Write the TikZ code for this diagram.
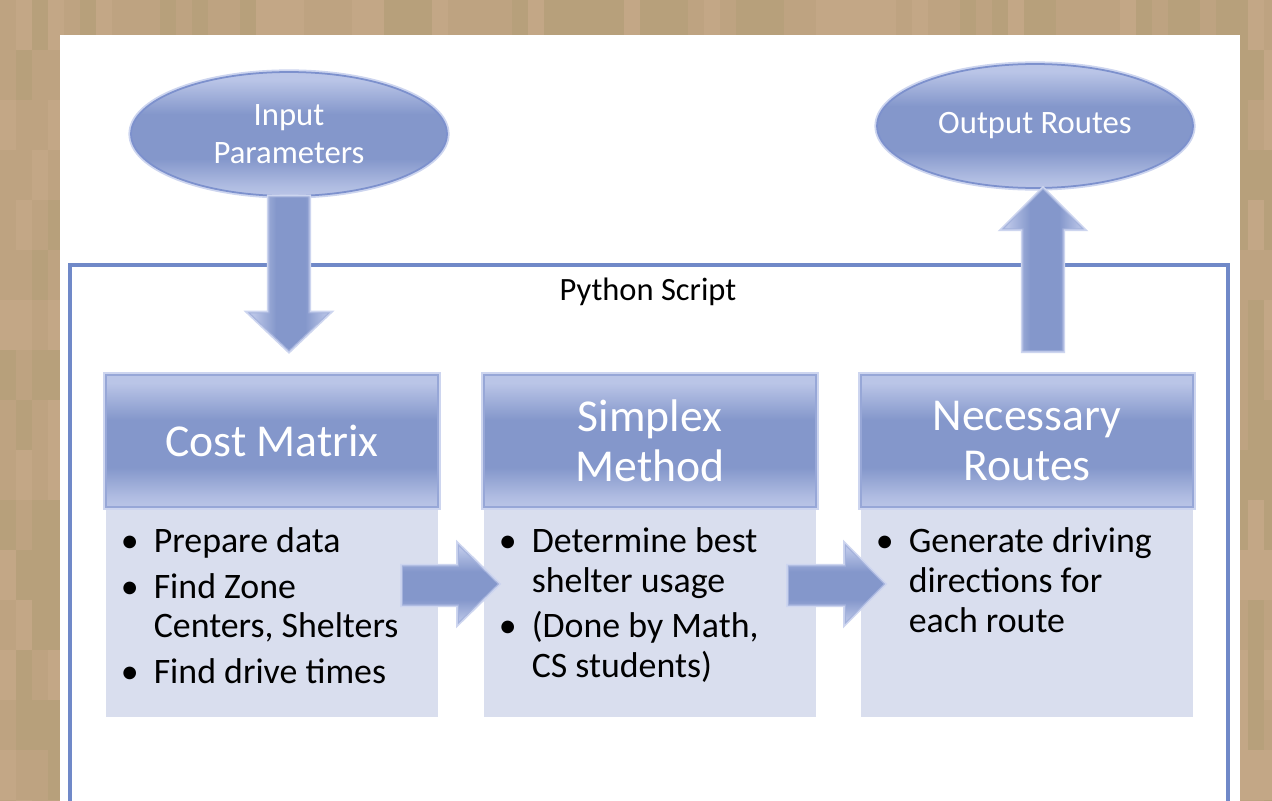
\documentclass[tikz,border=0pt]{standalone}
\usepackage{fontspec}
\setmainfont{Carlito}
\usetikzlibrary{shapes.geometric}

\definecolor{tan0}{RGB}{190,163,129}
\definecolor{tan1}{RGB}{183,160,123}
\definecolor{tan2}{RGB}{195,167,134}
\definecolor{bandlight}{RGB}{186,197,231}
\definecolor{banddark}{RGB}{132,151,203}
\definecolor{edgeblue}{RGB}{125,145,205}
\definecolor{framebl}{RGB}{112,137,200}
\definecolor{bodyfill}{RGB}{217,222,238}
\definecolor{glowbl}{RGB}{205,213,239}

\pgfdeclareverticalshading{blueband}{100bp}{color(0bp)=(bandlight); color(25bp)=(bandlight); color(29bp)=(bandlight!80!banddark); color(40bp)=(banddark); color(58bp)=(banddark); color(72bp)=(bandlight); color(100bp)=(bandlight)}

\newcommand{\itm}[1]{\makebox[27.2pt][l]{\hspace{8.5pt}\textbullet}#1}
\newcommand{\cnt}[1]{\hspace*{27.2pt}#1}

\tikzset{
    oval/.style={ellipse, shade, shading=blueband, draw=edgeblue, line width=1pt,
                 preaction={draw=glowbl, line width=3pt},
                 minimum width=6.32cm, minimum height=2.48cm, inner sep=0pt,
                 text=white, align=center, font=\fontsize{18.6}{21.5}\selectfont},
    head/.style={rectangle, shade, shading=blueband, draw=edgeblue!80, line width=0.8pt,
                 preaction={draw=glowbl, line width=3pt},
                 minimum width=6.64cm, minimum height=2.64cm, inner sep=0pt,
                 text=white, align=center, font=\fontsize{26}{28.3}\selectfont},
    body/.style={rectangle, fill=bodyfill, minimum width=6.64cm, minimum height=4.2cm, inner sep=0pt},
    bullets/.style={anchor=north west, align=left, inner sep=0pt, font=\fontsize{20.4}{22.7}\selectfont},
    barrow/.style={shade, shading=blueband, draw=edgeblue!70, line width=0.6pt,
                   preaction={draw=glowbl, line width=2.5pt}},
    frame/.style={draw=framebl, line width=2.2pt}
}

\begin{document}
\begin{tikzpicture}[x=0.02cm, y=-0.02cm]
    \useasboundingbox (0,0) rectangle (1272,801);

    % tan backdrop
    \pgfmathsetseed{7}
    \foreach \x in {0,16,...,1264}
        \foreach \y in {0,50,...,800}
            {\pgfmathrandominteger{\k}{0}{2}
             \fill [tan\k] (\x,\y) rectangle ++(16,50);}

    \fill [white] (60,35) rectangle (1240,801);

    % Python Script frame
    \draw [frame] (70,801) -- (70,265) -- (1228,265) -- (1228,801);
    \node [font=\fontsize{18.5}{22}\selectfont] (pylabel) at (648,292) {Python Script};

    % ovals
    \node [oval] (inp) at (289,134) {Input\\Parameters};
    \node [oval] (out) at (1035,126) {Output Routes};

    % three stages
    \node [body] (cmbody) at (272,612) {};
    \node [body] (smbody) at (650,612) {};
    \node [body] (nrbody) at (1027,612) {};

    \node [head] (cmhead) at (272,441) {Cost Matrix};
    \node [head] (smhead) at (650,441) {Simplex\\Method};
    \node [head] (nrhead) at (1027,441) {Necessary\\Routes};

    \node [bullets] (cmtext) at ([shift={(0,21)}]cmbody.north west)
        {\itm{Prepare data}\\[3pt] \itm{Find Zone}\\ \cnt{Centers, Shelters}\\[3pt] \itm{Find drive times}};
    \node [bullets] (smtext) at ([shift={(0,21)}]smbody.north west)
        {\itm{Determine best}\\ \cnt{shelter usage}\\[3pt] \itm{(Done by Math,}\\ \cnt{CS students)}};
    \node [bullets] (nrtext) at ([shift={(0,21)}]nrbody.north west)
        {\itm{Generate driving}\\ \cnt{directions for}\\ \cnt{each route}};

    % block arrows
    \path [barrow, shading angle=90] ([shift={(-20,0)}]inp.south) -- ++(0,116) -- ++(-20,0)
        -- ++(40,38) -- ++(40,-38) -- ++(-20,0) -- ++(0,-116) -- cycle;
    \path [barrow, shading angle=90] ([shift={(-12,162)}]out.south) -- ++(0,-122) -- ++(-20,0)
        -- ++(40,-40) -- ++(40,40) -- ++(-20,0) -- ++(0,122) -- cycle;
    \path [barrow] ([shift={(-36,-46)}]cmbody.east) -- ++(56,0) -- ++(0,-21)
        -- ++(40,39) -- ++(-40,39) -- ++(0,-18) -- ++(-56,0) -- cycle;
    \path [barrow] ([shift={(-28,-46)}]smbody.east) -- ++(57,0) -- ++(0,-21)
        -- ++(39,39) -- ++(-39,39) -- ++(0,-18) -- ++(-57,0) -- cycle;
\end{tikzpicture}
\end{document}
